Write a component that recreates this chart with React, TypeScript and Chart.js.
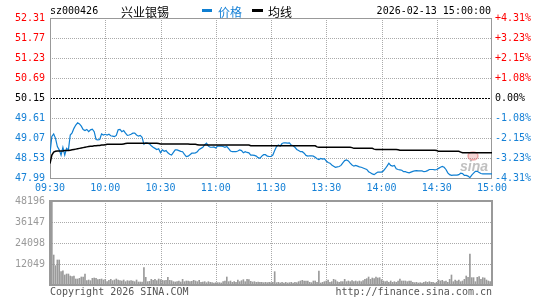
import React, { useEffect, useRef } from 'react';
import { Chart, registerables } from 'chart.js';

Chart.register(...registerables);

const stockCode = 'sz000426';
const stockName = '兴业银锡';
const stampText = '2026-02-13 15:00:00';
const prevClose = 50.15;
const priceTicks = [47.99, 48.53, 49.07, 49.61, 50.15, 50.69, 51.23, 51.77, 52.31];
const pctTicks = [-4.31, -3.23, -2.15, -1.08, 0, 1.08, 2.15, 3.23, 4.31];
const volumeTicks = [12049, 24098, 36147, 48196];
const timeTickMinutes = [0, 30, 60, 90, 120, 150, 180, 210, 240];
const timeTickLabels = ['09:30', '10:00', '10:30', '11:00', '11:30', '13:30', '14:00', '14:30', '15:00'];

const price = [
  48.66, 49.11, 49.18, 49.06, 48.84, 48.75, 48.61, 48.82, 48.61, 48.79,
  48.75, 49.15, 49.21, 49.33, 49.42, 49.48, 49.45, 49.39, 49.30, 49.27,
  49.30, 49.24, 49.29, 49.31, 49.24, 49.03, 49.02, 49.03, 49.18, 49.15,
  49.17, 49.15, 49.17, 49.13, 49.12, 49.11, 49.14, 49.29, 49.30, 49.24,
  49.27, 49.20, 49.14, 49.15, 49.17, 49.20, 49.20, 49.15, 49.12, 49.14,
  49.09, 48.90, 48.94, 48.93, 48.91, 48.86, 48.82, 48.79, 48.76, 48.78,
  48.67, 48.75, 48.71, 48.73, 48.67, 48.63, 48.61, 48.68, 48.75, 48.75,
  48.73, 48.71, 48.70, 48.63, 48.57, 48.58, 48.62, 48.66, 48.66, 48.67,
  48.70, 48.76, 48.79, 48.82, 48.89, 48.93, 48.85, 48.82, 48.82, 48.83,
  48.80, 48.85, 48.85, 48.85, 48.84, 48.82, 48.84, 48.78, 48.72, 48.70,
  48.70, 48.70, 48.72, 48.75, 48.73, 48.67, 48.70, 48.68, 48.67, 48.61,
  48.61, 48.60, 48.58, 48.54, 48.52, 48.58, 48.62, 48.62, 48.58, 48.57,
  48.57, 48.61, 48.73, 48.84, 48.88, 48.85, 48.92, 48.94, 48.94, 48.93,
  48.94, 48.88, 48.86, 48.82, 48.76, 48.73, 48.70, 48.70, 48.66, 48.60,
  48.58, 48.59, 48.59, 48.58, 48.55, 48.51, 48.49, 48.52, 48.50, 48.51,
  48.45, 48.41, 48.39, 48.34, 48.31, 48.28, 48.29, 48.30, 48.33, 48.40,
  48.46, 48.48, 48.45, 48.39, 48.34, 48.31, 48.33, 48.31, 48.29, 48.28,
  48.26, 48.24, 48.22, 48.16, 48.13, 48.10, 48.08, 48.12, 48.15, 48.15,
  48.15, 48.18, 48.24, 48.31, 48.39, 48.33, 48.31, 48.33, 48.24, 48.22,
  48.21, 48.20, 48.16, 48.16, 48.14, 48.13, 48.15, 48.17, 48.18, 48.19,
  48.18, 48.18, 48.18, 48.16, 48.17, 48.19, 48.22, 48.22, 48.22, 48.21,
  48.22, 48.25, 48.28, 48.30, 48.28, 48.22, 48.13, 48.08, 48.06, 48.07,
  48.07, 48.07, 48.08, 48.12, 48.11, 48.06, 48.06, 48.04, 48.00, 48.07,
  48.12, 48.17, 48.17, 48.14, 48.11, 48.10, 48.10, 48.10, 48.10, 48.10,
  48.10,
];

const avgPrice = [
  48.38, 48.61, 48.69, 48.71, 48.72, 48.72, 48.72, 48.72, 48.73, 48.73,
  48.73, 48.74, 48.75, 48.76, 48.77, 48.78, 48.79, 48.80, 48.81, 48.82,
  48.83, 48.84, 48.85, 48.85, 48.86, 48.86, 48.87, 48.87, 48.88, 48.88,
  48.89, 48.90, 48.90, 48.90, 48.90, 48.90, 48.90, 48.90, 48.90, 48.90,
  48.91, 48.92, 48.93, 48.93, 48.93, 48.93, 48.93, 48.93, 48.93, 48.93,
  48.93, 48.93, 48.93, 48.93, 48.93, 48.93, 48.93, 48.93, 48.93, 48.92,
  48.91, 48.91, 48.91, 48.91, 48.91, 48.91, 48.91, 48.91, 48.91, 48.91,
  48.91, 48.91, 48.91, 48.91, 48.91, 48.91, 48.90, 48.90, 48.90, 48.90,
  48.89, 48.88, 48.88, 48.88, 48.88, 48.88, 48.88, 48.88, 48.88, 48.88,
  48.88, 48.88, 48.88, 48.88, 48.88, 48.88, 48.88, 48.88, 48.88, 48.88,
  48.88, 48.88, 48.88, 48.88, 48.88, 48.88, 48.88, 48.88, 48.88, 48.86,
  48.86, 48.86, 48.86, 48.86, 48.86, 48.86, 48.86, 48.86, 48.86, 48.86,
  48.86, 48.86, 48.86, 48.86, 48.86, 48.86, 48.86, 48.86, 48.86, 48.86,
  48.86, 48.86, 48.86, 48.86, 48.86, 48.86, 48.86, 48.86, 48.86, 48.86,
  48.86, 48.86, 48.86, 48.86, 48.86, 48.83, 48.82, 48.82, 48.82, 48.82,
  48.82, 48.82, 48.82, 48.82, 48.82, 48.82, 48.82, 48.82, 48.82, 48.82,
  48.82, 48.82, 48.82, 48.82, 48.81, 48.79, 48.79, 48.79, 48.79, 48.79,
  48.79, 48.79, 48.79, 48.79, 48.79, 48.79, 48.77, 48.76, 48.76, 48.76,
  48.76, 48.76, 48.76, 48.76, 48.76, 48.76, 48.76, 48.76, 48.76, 48.75,
  48.74, 48.74, 48.74, 48.74, 48.74, 48.74, 48.74, 48.74, 48.74, 48.74,
  48.74, 48.74, 48.74, 48.74, 48.74, 48.74, 48.74, 48.74, 48.74, 48.74,
  48.73, 48.71, 48.71, 48.71, 48.71, 48.71, 48.71, 48.71, 48.71, 48.71,
  48.71, 48.71, 48.71, 48.69, 48.67, 48.67, 48.67, 48.67, 48.67, 48.67,
  48.67, 48.67, 48.67, 48.67, 48.67, 48.67, 48.67, 48.67, 48.67, 48.67,
  48.67,
];

const volume = [
  12050, 48196, 17200, 11100, 14350, 14350, 7650, 8200, 5740, 6300,
  6300, 5160, 4780, 5160, 3440, 3440, 3830, 4590, 4590, 6300,
  2490, 2870, 2490, 3830, 4020, 3830, 3060, 3250, 3440, 2870,
  3250, 1910, 2680, 3250, 2490, 2870, 3440, 2870, 2490, 2300,
  2870, 1910, 2490, 2300, 2490, 2300, 1910, 2870, 1720, 1720,
  1720, 9950, 4400, 1910, 2100, 3250, 2680, 3250, 2490, 3440,
  3060, 2680, 2490, 2680, 4400, 2680, 2490, 1910, 1720, 1910,
  2300, 1720, 3250, 1910, 2300, 2300, 1910, 2100, 2680, 2300,
  1910, 2680, 1530, 1720, 1910, 1340, 1910, 1530, 1340, 1150,
  1340, 1340, 1340, 1150, 1910, 2300, 4590, 1910, 2300, 1530,
  1910, 1530, 2870, 1910, 2490, 3060, 1910, 3250, 3060, 2100,
  1720, 1910, 1530, 1720, 1530, 1530, 1340, 1530, 1340, 1530,
  1340, 1530, 7650, 1340, 1530, 1150, 1530, 1150, 1530, 1150,
  1340, 1530, 1150, 1530, 1340, 1910, 2300, 2680, 2300, 2300,
  2300, 1530, 1340, 2300, 2300, 1530, 8040, 1150, 1530, 1910,
  2300, 2870, 1530, 1910, 3250, 2870, 1910, 1530, 1910, 1910,
  3250, 1910, 2300, 1910, 2490, 1910, 2300, 1910, 2300, 1910,
  2490, 3250, 3640, 4590, 3250, 4020, 3640, 4590, 4020, 4210,
  3060, 2300, 1910, 2300, 1530, 2300, 1530, 1910, 1530, 2300,
  3440, 2300, 2300, 2300, 1910, 2300, 2300, 1530, 1340, 1530,
  1150, 1340, 1150, 1530, 1910, 1530, 1910, 1530, 1530, 1150,
  1530, 2870, 2300, 2680, 1910, 2300, 1530, 3250, 5740, 1910,
  2870, 2300, 2870, 1910, 2300, 3250, 5160, 4400, 17800, 4210,
  4210, 1910, 4400, 4780, 3250, 4210, 4020, 2870, 2300, 1910,
  1910,
];

const MONO = '"DejaVu Sans Mono", "Liberation Mono", monospace';
const CJK = '"Noto Sans CJK SC", sans-serif';
const BLUE = '#1681d6';
const LINE_BLUE = '#0f7fd2';
const RED = '#ff0000';
const GRID = '#aaaaaa';
const FRAME = '#999999';

function drawInnerGrid(chart: any, hValues: number[], yScaleId: string) {
  const { ctx, chartArea, scales } = chart;
  const { left, right, top, bottom } = chartArea;
  const xs = scales.x;
  const ys = scales[yScaleId];
  ctx.save();
  ctx.lineWidth = 1;
  ctx.strokeStyle = GRID;
  ctx.setLineDash([1, 1]);
  for (const m of timeTickMinutes) {
    if (m === timeTickMinutes[0] || m === timeTickMinutes[timeTickMinutes.length - 1]) continue;
    const px = Math.round(xs.getPixelForValue(m)) + 0.5;
    ctx.beginPath();
    ctx.moveTo(px, top);
    ctx.lineTo(px, bottom);
    ctx.stroke();
  }
  for (const v of hValues) {
    const py = Math.round(ys.getPixelForValue(v)) + 0.5;
    ctx.beginPath();
    ctx.moveTo(left, py);
    ctx.lineTo(right, py);
    ctx.stroke();
  }
  ctx.restore();
}

const priceGridPlugin = {
  id: 'priceGrid',
  beforeDatasetsDraw(chart: any) {
    const inner = priceTicks.filter(
      (v) => v !== priceTicks[0] && v !== priceTicks[priceTicks.length - 1] && v !== prevClose
    );
    drawInnerGrid(chart, inner, 'y');
    const { ctx, chartArea, scales } = chart;
    const { left, right, top, bottom } = chartArea;
    ctx.save();
    // previous close dashed line
    const py = Math.round(scales.y.getPixelForValue(prevClose)) + 0.5;
    ctx.strokeStyle = '#000';
    ctx.lineWidth = 1;
    ctx.setLineDash([2, 1]);
    ctx.beginPath();
    ctx.moveTo(left, py);
    ctx.lineTo(right, py);
    ctx.stroke();
    ctx.setLineDash([]);
    // frame
    ctx.strokeStyle = FRAME;
    ctx.strokeRect(left + 0.5, top + 0.5, right - left - 1, bottom - top);
    // sina watermark
    ctx.strokeStyle = 'rgba(225,90,90,0.45)';
    ctx.fillStyle = 'rgba(225,90,90,0.25)';
    ctx.lineWidth = 1.5;
    ctx.beginPath();
    ctx.ellipse(473, 156, 5, 4, 0, 0, Math.PI * 2);
    ctx.fill();
    ctx.stroke();
    ctx.fillStyle = 'rgba(140,140,140,0.55)';
    ctx.font = 'italic bold 14px "Liberation Sans", Arial, sans-serif';
    ctx.textAlign = 'center';
    ctx.textBaseline = 'alphabetic';
    ctx.fillText('sina', 474, 171);
    ctx.restore();
  },
};

const volumeGridPlugin = {
  id: 'volumeGrid',
  beforeDatasetsDraw(chart: any) {
    drawInnerGrid(chart, volumeTicks.slice(0, volumeTicks.length - 1), 'y');
    const { ctx, chartArea } = chart;
    const { left, right, top, bottom } = chartArea;
    ctx.save();
    ctx.strokeStyle = FRAME;
    ctx.lineWidth = 2;
    ctx.strokeRect(left, top, right - left, bottom - top);
    ctx.restore();
  },
};

export default function App() {
  const topRef = useRef<HTMLCanvasElement>(null);
  const volRef = useRef<HTMLCanvasElement>(null);

  useEffect(() => {
    const tickFont = { family: MONO, size: 10 };
    const priceChart = new Chart(topRef.current as HTMLCanvasElement, {
      type: 'line',
      data: {
        datasets: [
          {
            label: '均线',
            data: avgPrice.map((v, i) => ({ x: i, y: v })),
            borderColor: '#000000',
            borderWidth: 1.5,
            pointRadius: 0,
            tension: 0,
            yAxisID: 'y',
          },
          {
            label: '价格',
            data: price.map((v, i) => ({ x: i, y: v })),
            borderColor: LINE_BLUE,
            borderWidth: 1.2,
            pointRadius: 0,
            tension: 0,
            yAxisID: 'y',
          },
        ],
      },
      options: {
        responsive: false,
        maintainAspectRatio: false,
        animation: false,
        layout: { padding: { top: 18, left: 0, right: 0, bottom: 0 } },
        plugins: { legend: { display: false }, tooltip: { enabled: false } },
        scales: {
          x: {
            type: 'linear',
            min: 0,
            max: 240,
            offset: false,
            grid: { display: false, drawTicks: false },
            border: { display: false },
            afterBuildTicks: (s: any) => {
              s.ticks = timeTickMinutes.map((v) => ({ value: v }));
            },
            afterFit: (s: any) => {
              s.height = 18;
            },
            ticks: {
              autoSkip: false,
              maxRotation: 0,
              minRotation: 0,
              padding: 4,
              color: BLUE,
              font: tickFont,
              callback: (_v: any, i: number) => timeTickLabels[i],
            },
          },
          y: {
            position: 'left',
            min: priceTicks[0],
            max: priceTicks[priceTicks.length - 1],
            grid: { display: false, drawTicks: false },
            border: { display: false },
            afterBuildTicks: (s: any) => {
              s.ticks = priceTicks.map((v) => ({ value: v }));
            },
            afterFit: (s: any) => {
              s.width = 50;
            },
            ticks: {
              padding: 5,
              font: tickFont,
              color: (ctx: any) => {
                const v = ctx.tick ? ctx.tick.value : 0;
                if (Math.abs(v - prevClose) < 0.001) return '#000000';
                return v > prevClose ? RED : BLUE;
              },
              callback: (v: any) => Number(v).toFixed(2),
            },
          },
          y2: {
            position: 'right',
            min: pctTicks[0],
            max: pctTicks[pctTicks.length - 1],
            grid: { display: false, drawTicks: false },
            border: { display: false },
            afterBuildTicks: (s: any) => {
              s.ticks = pctTicks.map((v) => ({ value: v }));
            },
            afterFit: (s: any) => {
              s.width = 53;
            },
            ticks: {
              padding: 3,
              font: tickFont,
              color: (ctx: any) => {
                const v = ctx.tick ? ctx.tick.value : 0;
                if (Math.abs(v) < 0.001) return '#000000';
                return v > 0 ? RED : BLUE;
              },
              callback: (v: any) => {
                const n = Number(v);
                if (Math.abs(n) < 0.001) return '0.00%';
                return (n > 0 ? '+' : '') + n.toFixed(2) + '%';
              },
            },
          },
        },
      },
      plugins: [priceGridPlugin],
    } as any);

    const volumeChart = new Chart(volRef.current as HTMLCanvasElement, {
      type: 'bar',
      data: {
        datasets: [
          {
            label: 'volume',
            data: volume.map((v, i) => ({ x: i, y: v })),
            backgroundColor: '#9a9a9a',
            borderWidth: 0,
            barThickness: 1,
          },
        ],
      },
      options: {
        responsive: false,
        maintainAspectRatio: false,
        animation: false,
        layout: { padding: { top: 15, left: 0, right: 53, bottom: 15 } },
        plugins: { legend: { display: false }, tooltip: { enabled: false } },
        scales: {
          x: {
            type: 'linear',
            min: 0,
            max: 240,
            offset: false,
            display: false,
            grid: { display: false, offset: false },
          },
          y: {
            position: 'left',
            min: 0,
            max: volumeTicks[volumeTicks.length - 1],
            grid: { display: false, drawTicks: false },
            border: { display: false },
            afterBuildTicks: (s: any) => {
              s.ticks = volumeTicks.map((v) => ({ value: v }));
            },
            afterFit: (s: any) => {
              s.width = 50;
            },
            ticks: {
              padding: 5,
              font: tickFont,
              color: '#9a9a9a',
              callback: (v: any) => String(v),
            },
          },
        },
      },
      plugins: [volumeGridPlugin],
    } as any);

    return () => {
      priceChart.destroy();
      volumeChart.destroy();
    };
  }, []);

  const mono: React.CSSProperties = {
    position: 'absolute',
    fontFamily: MONO,
    fontSize: 10,
    lineHeight: '12px',
    whiteSpace: 'nowrap',
  };
  const cjk: React.CSSProperties = {
    position: 'absolute',
    fontFamily: CJK,
    fontSize: 12,
    lineHeight: '14px',
    whiteSpace: 'nowrap',
  };

  return (
    <div
      style={{
        position: 'absolute',
        left: 0,
        top: 0,
        width: 545,
        height: 300,
        background: '#ffffff',
        overflow: 'hidden',
      }}
    >
      <canvas
        ref={topRef}
        width={545}
        height={196}
        style={{ position: 'absolute', left: 0, top: 0, width: 545, height: 196 }}
      />
      <canvas
        ref={volRef}
        width={545}
        height={114}
        style={{ position: 'absolute', left: 0, top: 186, width: 545, height: 114 }}
      />
      <div style={{ ...mono, left: 50, top: 5, color: '#000' }}>{stockCode}</div>
      <div style={{ ...cjk, left: 121, top: 5, color: '#000' }}>{stockName}</div>
      <div style={{ position: 'absolute', left: 202, top: 9, width: 10, height: 3, background: LINE_BLUE }} />
      <div style={{ ...cjk, left: 218, top: 5, color: BLUE }}>价格</div>
      <div style={{ position: 'absolute', left: 252, top: 9, width: 11, height: 3, background: '#000' }} />
      <div style={{ ...cjk, left: 268, top: 5, color: '#000' }}>均线</div>
      <div style={{ ...mono, right: 54, top: 5, color: '#000' }}>{stampText}</div>
      <div style={{ ...mono, left: 50, top: 286, color: '#555' }}>Copyright 2026 SINA.COM</div>
      <div style={{ ...mono, right: 53, top: 286, color: '#555' }}>http://finance.sina.com.cn</div>
    </div>
  );
}
